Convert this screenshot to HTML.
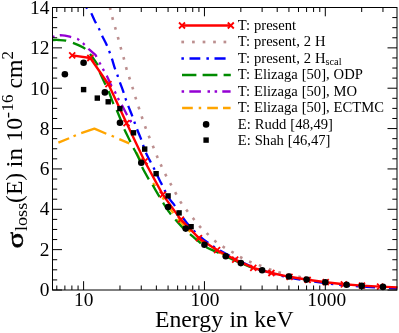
<!DOCTYPE html>
<html><head><meta charset="utf-8"><title>Loss cross section</title>
<style>html,body{margin:0;padding:0;background:#fff;overflow:hidden}svg{display:block;will-change:transform}text{font-family:"Liberation Serif",serif}</style></head>
<body>
<svg width="399" height="333" viewBox="0 0 399 333" font-family="'Liberation Serif', serif" fill="#000">
<rect x="0" y="0" width="399" height="333" fill="#fff"/>
<defs><clipPath id="cp"><rect x="52.5" y="7.5" width="345" height="282.5"/></clipPath></defs>
<g clip-path="url(#cp)" fill="none" stroke-width="2.3" stroke-linecap="butt" stroke-linejoin="round">
<g stroke="#ffa500">
<path d="M58.4 142.6 L69.1 138.2"/>
<path d="M73.5 136.3 L75.9 135.3"/>
<path d="M81.2 133.2 L94.4 128.6 L106.3 133.8"/>
<path d="M111.6 135.7 L114 136.7"/>
<path d="M119.3 139.1 L129.2 143.4"/>
<path d="M136.5 152.5 L137 153.5 L137.5 154.5 L138 155.5 L138.5 156.5 L139 157.5 L139.5 158.5 L139.94 159.5 L140.33 160.5"/>
<path d="M153.09 183 L153.36 183.4 L153.62 183.8 L153.89 184.2 L154.16 184.6 L154.43 185 L154.7 185.4 L154.97 185.8 L155.23 186.2"/>
<path d="M162.44 197.3 L162.63 197.59 L162.82 197.88 L163.01 198.16 L163.2 198.45 L163.39 198.74 L163.59 199.03 L163.78 199.31 L163.97 199.6"/>
<path d="M167.36 204.6 L168.1 205.67 L168.84 206.75 L169.58 207.82 L170.32 208.9 L171.06 209.97 L171.81 211.05 L172.55 212.12 L173.32 213.2"/>
<path d="M177.69 218.8 L178.44 219.65 L179.22 220.5 L180 221.35 L180.78 222.2 L181.58 223.05 L182.38 223.9 L183.18 224.75 L183.98 225.6"/>
<path d="M188.26 229.9 L188.53 230.16 L188.81 230.43 L189.09 230.69 L189.37 230.95 L189.65 231.21 L189.94 231.47 L190.22 231.74 L190.5 232"/>
<path d="M196.47 237.5 L197.31 238.19 L198.16 238.88 L199 239.56 L199.88 240.25 L200.81 240.94 L201.74 241.62 L202.68 242.31 L203.61 243"/>
<path d="M217.83 251.5 L219.06 252.12 L220.33 252.75 L221.6 253.38 L222.86 254 L224.13 254.62 L225.4 255.25 L226.67 255.88 L227.94 256.5"/>
</g>
<path d="M52.5 37 L56 35.9 L60.2 35.2 L65 35.7 L69.8 36.7 L77.4 38.8 L83.5 43.7 L88.8 49.1 L95.7 55.2 L99.5 62.6 L103.6 70.1 L107 76.2 L110.7 84.3 L115 91.9 L118.6 99.4 L122.4 106 L126.8 114.5 L130.6 121.1 L131.1 122.1" stroke="#9400d3" stroke-dasharray="2.5 5.4 11.6 6.2 2.5 4.7" stroke-dashoffset="0.4"/>
<path d="M130.1 120 L131.1 122.2" stroke="#9400d3"/>
<path d="M52.5 40 C53.58 40 56.78 39.9 59 40 C61.22 40.1 63.53 40.15 65.8 40.6 C68.07 41.05 70.4 41.9 72.6 42.7 C74.8 43.5 76.88 44.38 79 45.4 C81.12 46.42 83.57 47.48 85.3 48.8 C87.03 50.12 88.03 51.67 89.4 53.3 C90.77 54.93 92.17 56.72 93.5 58.6 C94.83 60.48 96.38 62.37 97.4 64.6 C98.42 66.83 98.37 68.88 99.6 72 C100.83 75.12 103.32 80.17 104.8 83.3 C106.28 86.43 107.13 87.53 108.5 90.8 C109.87 94.07 111.67 99.73 113 102.9 C114.33 106.07 115.28 107.15 116.5 109.8 C117.72 112.45 119.05 115.67 120.3 118.8 C121.55 121.93 122.38 124.92 124 128.6 C125.62 132.28 128.47 137.78 130 140.9 C131.53 144.02 131.67 144.23 133.2 147.3 C134.73 150.37 137.72 156 139.2 159.3 C140.68 162.6 140.62 163.97 142.1 167.1 C143.58 170.23 146.43 175.25 148.1 178.1 C149.77 180.95 150.27 181.18 152.1 184.2 C153.93 187.22 157.37 193.27 159.1 196.2 C160.83 199.13 160.75 199.05 162.5 201.8 C164.25 204.55 167.58 209.88 169.6 212.7 C171.62 215.52 172.3 216.08 174.6 218.7 C176.9 221.32 180.98 225.98 183.4 228.4 C185.82 230.82 186.47 230.95 189.1 233.2 C191.73 235.45 196.52 239.67 199.2 241.9 C201.88 244.13 202.18 244.87 205.2 246.6 C208.22 248.33 212.33 249.97 217.3 252.3 C222.27 254.63 229.05 257.93 235 260.6 C240.95 263.27 250 267.02 253 268.3" stroke="#008b00" stroke-dasharray="13.75 7.05"/>
<path d="M85.9 6.5 L87.1 8.7" stroke="#0000ff"/>
<path d="M91.3 13.2 C92 14.72 94.23 19.73 95.5 22.3 C96.77 24.87 97.83 26.43 98.9 28.6 C99.97 30.77 100.63 32.67 101.9 35.3 C103.17 37.93 105.25 41.67 106.5 44.4 C107.75 47.13 108.52 49.37 109.4 51.7 C110.28 54.03 110.93 55.75 111.8 58.4 C112.67 61.05 113.67 64.83 114.6 67.6 C115.53 70.37 116.53 72.58 117.4 75 C118.27 77.42 118.85 79.43 119.8 82.1 C120.75 84.77 122.15 88.27 123.1 91 C124.05 93.73 124.67 96.08 125.5 98.5 C126.33 100.92 127.07 102.83 128.1 105.5 C129.13 108.17 130.68 111.85 131.7 114.5 C132.72 117.15 133.35 119.05 134.2 121.4 C135.05 123.75 135.77 125.93 136.8 128.6 C137.83 131.27 139.37 134.72 140.4 137.4 C141.43 140.08 142.08 142.13 143 144.7 C143.92 147.27 144.8 150.23 145.9 152.8 C147 155.37 148.35 157.67 149.6 160.1 C150.85 162.53 152.15 164.9 153.4 167.4 C154.65 169.9 155.82 172.48 157.1 175.1 C158.38 177.72 159.88 180.65 161.1 183.1 C162.32 185.55 163.03 187.2 164.4 189.8 C165.77 192.4 167.75 196.3 169.3 198.7 C170.85 201.1 172.37 202.32 173.7 204.2 C175.03 206.08 175.78 207.77 177.3 210 C178.82 212.23 181.13 215.33 182.8 217.6 C184.47 219.87 185.6 221.53 187.3 223.6 C189 225.67 190.88 227.83 193 230 C195.12 232.17 197.5 234.47 200 236.6 C202.5 238.73 205.08 240.73 208 242.8 C210.92 244.87 212.92 246.33 217.5 249 C222.08 251.67 229.5 255.75 235.5 258.8 C241.5 261.85 247.5 264.93 253.5 267.3 C259.5 269.67 265.5 271.27 271.5 273 C277.5 274.73 283.48 276.41 289.5 277.7 C295.52 278.98 301.57 279.8 307.6 280.7 C313.63 281.59 319.67 282.34 325.7 283.09 C331.73 283.84 337.75 284.63 343.8 285.19 C349.85 285.76 355.97 286.12 362 286.5 C368.03 286.89 374.17 287.21 380 287.5 C385.83 287.79 394.17 288.12 397 288.25" stroke="#0000ff" stroke-dasharray="11 5.75 2.5 5.75"/>
<g stroke="none" fill="#bc8f8f">
<rect x="-1.35" y="-1.3" width="2.7" height="2.6" transform="translate(110.2 8.6) rotate(76.37)"/>
<rect x="-1.35" y="-1.3" width="2.7" height="2.6" transform="translate(112.6 18.5) rotate(75.28)"/>
<rect x="-1.35" y="-1.3" width="2.7" height="2.6" transform="translate(115.4 28.4) rotate(74.21)"/>
<rect x="-1.35" y="-1.3" width="2.7" height="2.6" transform="translate(118.2 38.3) rotate(74.55)"/>
<rect x="-1.35" y="-1.3" width="2.7" height="2.6" transform="translate(120.9 48.3) rotate(74.43)"/>
<rect x="-1.35" y="-1.3" width="2.7" height="2.6" transform="translate(123.8 58.4) rotate(74.77)"/>
<rect x="-1.35" y="-1.3" width="2.7" height="2.6" transform="translate(126.4 68.5) rotate(73.94)"/>
<rect x="-1.35" y="-1.3" width="2.7" height="2.6" transform="translate(129.5 78.2) rotate(72.18)"/>
<rect x="-1.35" y="-1.3" width="2.7" height="2.6" transform="translate(132.7 88.1) rotate(72.7)"/>
<rect x="-1.35" y="-1.3" width="2.7" height="2.6" transform="translate(135.7 98.1) rotate(72.7)"/>
<rect x="-1.35" y="-1.3" width="2.7" height="2.6" transform="translate(138.9 108) rotate(71.92)"/>
<rect x="-1.35" y="-1.3" width="2.7" height="2.6" transform="translate(142.1 117.7) rotate(71.3)"/>
<rect x="-1.35" y="-1.3" width="2.7" height="2.6" transform="translate(145.5 127.5) rotate(69.9)"/>
<rect x="-1.35" y="-1.3" width="2.7" height="2.6" transform="translate(149.2 137.1) rotate(68.1)"/>
<rect x="-1.35" y="-1.3" width="2.7" height="2.6" transform="translate(153.3 146.9) rotate(67.8)"/>
<rect x="-1.35" y="-1.3" width="2.7" height="2.6" transform="translate(157.2 156.7) rotate(67.1)"/>
<rect x="-1.35" y="-1.3" width="2.7" height="2.6" transform="translate(161.2 165.6) rotate(64.95)"/>
<rect x="-1.35" y="-1.3" width="2.7" height="2.6" transform="translate(165.8 175.1) rotate(62.7)"/>
<rect x="-1.35" y="-1.3" width="2.7" height="2.6" transform="translate(170.8 184.2) rotate(61.35)"/>
<rect x="-1.35" y="-1.3" width="2.7" height="2.6" transform="translate(175.8 193.4) rotate(61.11)"/>
<rect x="-1.35" y="-1.3" width="2.7" height="2.6" transform="translate(180.9 202.5) rotate(57.08)"/>
<rect x="-1.35" y="-1.3" width="2.7" height="2.6" transform="translate(187 210.7) rotate(52.25)"/>
<rect x="-1.35" y="-1.3" width="2.7" height="2.6" transform="translate(193.6 218.9) rotate(50.87)"/>
<rect x="-1.35" y="-1.3" width="2.7" height="2.6" transform="translate(200.1 226.8) rotate(47.16)"/>
<rect x="-1.35" y="-1.3" width="2.7" height="2.6" transform="translate(207.6 234) rotate(43.46)"/>
<rect x="-1.35" y="-1.3" width="2.7" height="2.6" transform="translate(215.4 241.3) rotate(39.13)"/>
<rect x="-1.35" y="-1.3" width="2.7" height="2.6" transform="translate(223.7 247.1) rotate(32.51)"/>
<rect x="-1.35" y="-1.3" width="2.7" height="2.6" transform="translate(232.5 252.2) rotate(30.96)"/>
<rect x="-1.35" y="-1.3" width="2.7" height="2.6" transform="translate(241.2 257.6) rotate(28.84)"/>
<rect x="-1.35" y="-1.3" width="2.7" height="2.6" transform="translate(250.3 262) rotate(22.94)"/>
<rect x="-1.35" y="-1.3" width="2.7" height="2.6" transform="translate(260.1 265.6) rotate(20.75)"/>
<rect x="-1.35" y="-1.3" width="2.7" height="2.6" transform="translate(270.1 269.5) rotate(19.49)"/>
<rect x="-1.35" y="-1.3" width="2.7" height="2.6" transform="translate(279.6 272.5) rotate(14.95)"/>
<rect x="-1.35" y="-1.3" width="2.7" height="2.6" transform="translate(289.2 274.6) rotate(12.41)"/>
<rect x="-1.35" y="-1.3" width="2.7" height="2.6" transform="translate(299.6 276.9) rotate(12.59)"/>
<rect x="-1.35" y="-1.3" width="2.7" height="2.6" transform="translate(309.8 279.2) rotate(12.71)"/>
</g>
<path d="M72.2 55.4 L90.31 58 L108.42 84.2 L126.53 123.1 L144.64 161.3 L162.75 194.6 L180.86 219.6 L198.97 238.2 L217.08 250.2 L235.19 259.6 L253.3 267.8 L271.41 273 L289.52 276.8 L307.63 279.8 L325.74 282.2 L343.85 284.3 L361.96 285.6 L380.07 286.6 L398.18 287.4" stroke="#ff0000" stroke-width="2.4"/>
</g>
<g stroke="#ff0000" stroke-width="1.8" fill="none" clip-path="url(#cp)">
<path d="M69.2 52.4 L75.2 58.4 M69.2 58.4 L75.2 52.4"/>
<path d="M87.31 55 L93.31 61 M87.31 61 L93.31 55"/>
<path d="M105.42 81.2 L111.42 87.2 M105.42 87.2 L111.42 81.2"/>
<path d="M123.53 120.1 L129.53 126.1 M123.53 126.1 L129.53 120.1"/>
<path d="M141.64 158.3 L147.64 164.3 M141.64 164.3 L147.64 158.3"/>
<path d="M159.75 191.6 L165.75 197.6 M159.75 197.6 L165.75 191.6"/>
<path d="M177.86 216.6 L183.86 222.6 M177.86 222.6 L183.86 216.6"/>
<path d="M195.97 235.2 L201.97 241.2 M195.97 241.2 L201.97 235.2"/>
<path d="M214.08 247.2 L220.08 253.2 M214.08 253.2 L220.08 247.2"/>
<path d="M232.19 256.6 L238.19 262.6 M232.19 262.6 L238.19 256.6"/>
<path d="M250.3 264.8 L256.3 270.8 M250.3 270.8 L256.3 264.8"/>
<path d="M268.41 270 L274.41 276 M268.41 276 L274.41 270"/>
<path d="M286.52 273.8 L292.52 279.8 M286.52 279.8 L292.52 273.8"/>
<path d="M304.63 276.8 L310.63 282.8 M304.63 282.8 L310.63 276.8"/>
<path d="M322.74 279.2 L328.74 285.2 M322.74 285.2 L328.74 279.2"/>
<path d="M340.85 281.3 L346.85 287.3 M340.85 287.3 L346.85 281.3"/>
<path d="M358.96 282.6 L364.96 288.6 M358.96 288.6 L364.96 282.6"/>
<path d="M377.07 283.6 L383.07 289.6 M377.07 289.6 L383.07 283.6"/>
</g>
<rect x="80.9" y="86.9" width="5.4" height="5.4"/>
<rect x="94.6" y="95.4" width="5.4" height="5.4"/>
<rect x="105.5" y="99.1" width="5.4" height="5.4"/>
<rect x="117.2" y="105.9" width="5.4" height="5.4"/>
<rect x="130.8" y="130.1" width="5.4" height="5.4"/>
<rect x="142" y="146.4" width="5.4" height="5.4"/>
<rect x="153.4" y="171" width="5.4" height="5.4"/>
<rect x="165.4" y="193.2" width="5.4" height="5.4"/>
<rect x="176.4" y="210.2" width="5.4" height="5.4"/>
<rect x="188.4" y="224" width="5.4" height="5.4"/>
<circle cx="64.88" cy="74.3" r="3.3"/>
<circle cx="83.6" cy="62.7" r="3.3"/>
<circle cx="104.88" cy="92.4" r="3.3"/>
<circle cx="119.98" cy="122.8" r="3.3"/>
<circle cx="141.26" cy="162.8" r="3.3"/>
<circle cx="168.07" cy="207" r="3.3"/>
<circle cx="185.73" cy="228.6" r="3.3"/>
<circle cx="204.45" cy="244.8" r="3.3"/>
<circle cx="225.73" cy="256.3" r="3.3"/>
<circle cx="240.83" cy="263.1" r="3.3"/>
<circle cx="262.11" cy="270.2" r="3.3"/>
<circle cx="288.92" cy="276.5" r="3.3"/>
<circle cx="306.58" cy="279.6" r="3.3"/>
<circle cx="325.3" cy="282.3" r="3.3"/>
<circle cx="346.58" cy="284.7" r="3.3"/>
<circle cx="361.68" cy="285.9" r="3.3"/>
<circle cx="382.96" cy="286.9" r="3.3"/>
<g stroke="#000" stroke-width="1" fill="none" shape-rendering="auto">
<rect x="52.5" y="7.5" width="344.5" height="282.5"/>
<path d="M52.5 290 h9.5 M397 290 h-9.5 M52.5 279.91 h4.7 M397 279.91 h-4.7 M52.5 269.82 h4.7 M397 269.82 h-4.7 M52.5 259.73 h4.7 M397 259.73 h-4.7 M52.5 249.64 h9.5 M397 249.64 h-9.5 M52.5 239.55 h4.7 M397 239.55 h-4.7 M52.5 229.46 h4.7 M397 229.46 h-4.7 M52.5 219.38 h4.7 M397 219.38 h-4.7 M52.5 209.29 h9.5 M397 209.29 h-9.5 M52.5 199.2 h4.7 M397 199.2 h-4.7 M52.5 189.11 h4.7 M397 189.11 h-4.7 M52.5 179.02 h4.7 M397 179.02 h-4.7 M52.5 168.93 h9.5 M397 168.93 h-9.5 M52.5 158.84 h4.7 M397 158.84 h-4.7 M52.5 148.75 h4.7 M397 148.75 h-4.7 M52.5 138.66 h4.7 M397 138.66 h-4.7 M52.5 128.57 h9.5 M397 128.57 h-9.5 M52.5 118.48 h4.7 M397 118.48 h-4.7 M52.5 108.39 h4.7 M397 108.39 h-4.7 M52.5 98.3 h4.7 M397 98.3 h-4.7 M52.5 88.21 h9.5 M397 88.21 h-9.5 M52.5 78.12 h4.7 M397 78.12 h-4.7 M52.5 68.04 h4.7 M397 68.04 h-4.7 M52.5 57.95 h4.7 M397 57.95 h-4.7 M52.5 47.86 h9.5 M397 47.86 h-9.5 M52.5 37.77 h4.7 M397 37.77 h-4.7 M52.5 27.68 h4.7 M397 27.68 h-4.7 M52.5 17.59 h4.7 M397 17.59 h-4.7 M52.5 7.5 h9.5 M397 7.5 h-9.5 M56.79 290 v-4.5 M56.79 7.5 v4.5 M64.88 290 v-4.5 M64.88 7.5 v4.5 M71.89 290 v-4.5 M71.89 7.5 v4.5 M78.07 290 v-4.5 M78.07 7.5 v4.5 M83.6 290 v-8.8 M83.6 7.5 v8.8 M119.98 290 v-4.5 M119.98 7.5 v4.5 M141.26 290 v-4.5 M141.26 7.5 v4.5 M156.36 290 v-4.5 M156.36 7.5 v4.5 M168.07 290 v-4.5 M168.07 7.5 v4.5 M177.64 290 v-4.5 M177.64 7.5 v4.5 M185.73 290 v-4.5 M185.73 7.5 v4.5 M192.74 290 v-4.5 M192.74 7.5 v4.5 M198.92 290 v-4.5 M198.92 7.5 v4.5 M204.45 290 v-8.8 M204.45 7.5 v8.8 M240.83 290 v-4.5 M240.83 7.5 v4.5 M262.11 290 v-4.5 M262.11 7.5 v4.5 M277.21 290 v-4.5 M277.21 7.5 v4.5 M288.92 290 v-4.5 M288.92 7.5 v4.5 M298.49 290 v-4.5 M298.49 7.5 v4.5 M306.58 290 v-4.5 M306.58 7.5 v4.5 M313.59 290 v-4.5 M313.59 7.5 v4.5 M319.77 290 v-4.5 M319.77 7.5 v4.5 M325.3 290 v-8.8 M325.3 7.5 v8.8 M361.68 290 v-4.5 M361.68 7.5 v4.5 M382.96 290 v-4.5 M382.96 7.5 v4.5"/>
</g>
<text x="49.4" y="295.9" font-size="19.4" text-anchor="end">0</text>
<text x="49.4" y="255.63" font-size="19.4" text-anchor="end">2</text>
<text x="49.4" y="215.36" font-size="19.4" text-anchor="end">4</text>
<text x="49.4" y="175.09" font-size="19.4" text-anchor="end">6</text>
<text x="49.4" y="134.81" font-size="19.4" text-anchor="end">8</text>
<text x="49.4" y="94.54" font-size="19.4" text-anchor="end">10</text>
<text x="49.4" y="54.27" font-size="19.4" text-anchor="end">12</text>
<text x="49.4" y="14" font-size="19.4" text-anchor="end">14</text>
<text x="83.8" y="306.2" font-size="19.4" text-anchor="middle">10</text>
<text x="204.95" y="306.2" font-size="19.4" text-anchor="middle">100</text>
<text x="326.7" y="306.2" font-size="19.4" text-anchor="middle">1000</text>
<text x="155.0" y="326.5" font-size="23.7" word-spacing="0.5">Energy in keV</text>
<text transform="translate(23 248.6) rotate(-90) scale(1.3 1)" font-size="23.7" stroke="#000" stroke-width="0.45">σ</text>
<text transform="translate(26.6 231) rotate(-90) scale(1.08 1)" font-size="16.8">loss</text>
<text transform="translate(22.4 203) rotate(-90)" font-size="23.7">(E)</text>
<text transform="translate(22.4 167.6) rotate(-90) scale(1.06 1)" font-size="23.7">in</text>
<text transform="translate(22.4 141.6) rotate(-90)" font-size="23.7">10</text>
<text transform="translate(12.5 118.3) rotate(-90) scale(1.12 1)" font-size="16.8">-</text>
<text transform="translate(12.5 111.4) rotate(-90)" font-size="16.8">16</text>
<text transform="translate(22.4 88.6) rotate(-90)" font-size="23.7">cm</text>
<text transform="translate(12.5 59.6) rotate(-90)" font-size="16.8">2</text>
<g fill="none" stroke-width="2.3">
<path d="M182 25.5 H230.8" stroke="#ff0000" stroke-width="2.4"/>
<path d="M179 22.5 L185 28.5 M179 28.5 L185 22.5" stroke="#ff0000" stroke-width="1.8"/>
<path d="M227.8 22.5 L233.8 28.5 M227.8 28.5 L233.8 22.5" stroke="#ff0000" stroke-width="1.8"/>
<rect x="181.35" y="40.65" width="2.7" height="2.7" fill="#bc8f8f" stroke="none"/>
<rect x="192.05" y="40.65" width="2.7" height="2.7" fill="#bc8f8f" stroke="none"/>
<rect x="202.65" y="40.65" width="2.7" height="2.7" fill="#bc8f8f" stroke="none"/>
<rect x="213.15" y="40.65" width="2.7" height="2.7" fill="#bc8f8f" stroke="none"/>
<rect x="223.55" y="40.65" width="2.7" height="2.7" fill="#bc8f8f" stroke="none"/>
<path d="M181.4 58.5 h2.5 M189.5 58.5 H200.3 M206.4 58.5 h2.5 M214.5 58.5 H225.6" stroke="#0000ff"/>
<path d="M182 75 H196.4 M202.6 75 H217.4 M223.6 75 H230.8" stroke="#008b00"/>
<path d="M181.6 91.5 h2.5 M189.3 91.5 H200.9 M207.5 91.5 h2.5 M214.6 91.5 h2.5 M222.3 91.5 H230.6" stroke="#9400d3"/>
<path d="M182.1 108 H192.8 M198.7 108 h2.5 M207.2 108 H217.9 M223 108 H230.6" stroke="#ffa500"/>
</g>
<circle cx="206.1" cy="124.4" r="3.3"/>
<rect x="203.4" y="137.4" width="5.4" height="5.4"/>
<text x="237.8" y="29.8" font-size="14.6" word-spacing="0.3">T: present</text>
<text x="237.8" y="46.3" font-size="14.6" word-spacing="0.3">T: present, 2 H</text>
<text x="237.8" y="62.8" font-size="14.6" word-spacing="0.3">T: present, 2 H<tspan font-size="10.3" dy="1.9">scal</tspan></text>
<text x="237.8" y="79.3" font-size="14.6" word-spacing="0.3">T: Elizaga [50], ODP</text>
<text x="237.8" y="95.8" font-size="14.6" word-spacing="0.3">T: Elizaga [50], MO</text>
<text x="237.8" y="112.3" font-size="14.6" word-spacing="0.3">T: Elizaga [50], ECTMC</text>
<text x="237.8" y="128.8" font-size="14.6" word-spacing="0.3">E: Rudd [48,49]</text>
<text x="237.8" y="145.3" font-size="14.6" word-spacing="0.3">E: Shah [46,47]</text>
</svg>
</body></html>
